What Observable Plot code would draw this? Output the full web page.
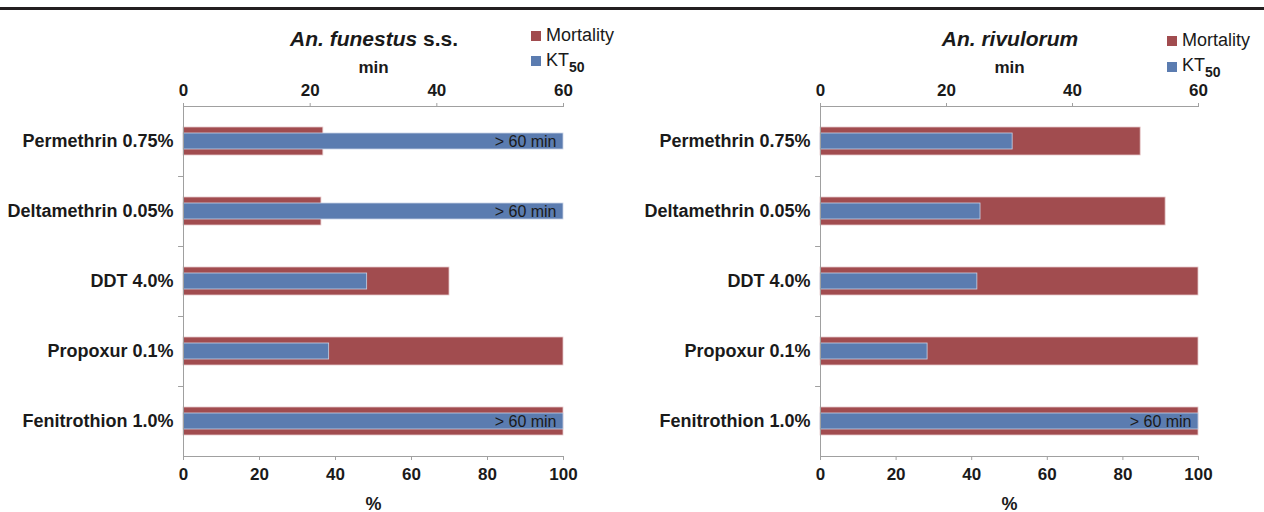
<!DOCTYPE html>
<html>
<head>
<meta charset="utf-8">
<script src="https://cdn.jsdelivr.net/npm/d3@7"></script>
<script src="https://cdn.jsdelivr.net/npm/@observablehq/plot@0.6"></script>
<style>
  html, body { margin: 0; padding: 0; background: #fff; }
  #wrap { position: relative; width: 1264px; height: 512px; overflow: hidden;
    font-family: "Liberation Sans", Arial, Helvetica, sans-serif; color: #1a1a1a; }
  .topline { position: absolute; left: 0; top: 7px; width: 1264px; height: 3px; background: #231f20; }
  .panel { position: absolute; top: 0; }
  .title { position: absolute; font-size: 21px; line-height: 21px; font-weight: bold;
    white-space: nowrap; transform: translateX(-50%); }
  .title i { font-style: italic; }
  .leg { position: absolute; font-size: 18px; line-height: 18px; white-space: nowrap; }
  .leg sub { font-size: 14px; font-weight: bold; vertical-align: -6px; line-height: 0; }
  .sw { position: absolute; width: 10px; height: 10px; }
</style>
</head>
<body>
<div id="wrap">
  <div class="topline"></div>
  <div id="left" class="panel" style="left:0"></div>
  <div id="right" class="panel" style="left:632px"></div>
</div>
<script>
// ---- data ----
const insecticides = ["Permethrin 0.75%", "Deltamethrin 0.05%", "DDT 4.0%", "Propoxur 0.1%", "Fenitrothion 1.0%"];
const funestusMortality = [36.8, 36.3, 70, 100, 100];      // %
const funestusKT50 = [60, 60, 29, 23, 60];                 // min
const funestusOver60 = [true, true, false, false, true];
const rivulorumMortality = [84.7, 91.3, 100, 100, 100];    // %
const rivulorumKT50 = [30.5, 25.4, 24.9, 17, 60];          // min
const rivulorumOver60 = [false, false, false, false, true];
const pctTicks = [0, 20, 40, 60, 80, 100];
const minTicks = [0, 20, 40, 60];
const minMax = 60;
const titles = [["An. funestus", " s.s."], ["An. rivulorum", ""]];
const seriesNames = ["Mortality", "KT"];

const RED = "#a14c4f";
const BLUE = "#5b7cb0";
const AXIS = "#a0a0a0";
const INK = "#1a1a1a";

function panel(mort, kt, over, {marginLeft, marginRight}) {
  const rows = insecticides.map((cat, i) => ({
    cat, mort: mort[i], kt: kt[i], ktPct: kt[i] / minMax * 100, over: over[i]
  }));
  return Plot.plot({
    width: 632, height: 512,
    marginTop: 106, marginBottom: 56, marginLeft, marginRight,
    style: { fontFamily: "Liberation Sans, Arial, sans-serif", color: INK, background: "transparent", overflow: "visible" },
    x: { domain: [0, 100], axis: null },
    y: { domain: insecticides, paddingInner: 0.6, paddingOuter: 0.3, axis: null },
    marks: [
      Plot.barX(rows, { x: "mort", y: "cat", fill: RED, stroke: "#e6c9ca", strokeWidth: 0.8 }),
      Plot.barX(rows, { x: "ktPct", y: "cat", fill: BLUE, stroke: "#c9d3e6", strokeWidth: 0.8, insetTop: 6, insetBottom: 6 }),
      Plot.text(rows.filter(d => d.over), { x: "ktPct", y: "cat", text: () => "> 60 min",
        textAnchor: "end", dx: -7, fontSize: 16, fill: INK }),
      // axis lines
      Plot.ruleX([0], { stroke: AXIS }),
      Plot.ruleY([insecticides[0]], { dy: -35, stroke: AXIS }),
      Plot.ruleY([insecticides[insecticides.length - 1]], { dy: 35, stroke: AXIS }),
      // category boundary ticks on the left axis
      Plot.ruleY(insecticides.slice(0, -1), { x1: -1.3, x2: 0, dy: 35, stroke: AXIS }),
      // bottom % axis
      Plot.axisX({ anchor: "bottom", ticks: pctTicks, tickSize: 4, tickPadding: 7, stroke: AXIS, fill: INK,
        fontSize: 17, fontWeight: "bold", label: null }),
      // top min axis
      Plot.axisX({ anchor: "top", ticks: minTicks.map(m => m / minMax * 100),
        tickFormat: d => Math.round(d * minMax / 100), tickSize: 4, tickPadding: 7, stroke: AXIS, fill: INK,
        fontSize: 17, fontWeight: "bold", label: null }),
      // category labels
      Plot.axisY({ tickSize: 0, tickPadding: 10, fontSize: 18, fontWeight: "bold", fill: INK, label: null }),
      Plot.text(["min"], { frameAnchor: "top", dy: -46, fontSize: 17, fontWeight: "bold", fill: INK }),
      Plot.text(["%"], { frameAnchor: "bottom", dy: 53, fontSize: 18, fontWeight: "bold", fill: INK })
    ]
  });
}

document.getElementById("left").appendChild(
  panel(funestusMortality, funestusKT50, funestusOver60, { marginLeft: 183, marginRight: 69 }));
document.getElementById("right").appendChild(
  panel(rivulorumMortality, rivulorumKT50, rivulorumOver60, { marginLeft: 188, marginRight: 66 }));

// titles and legends (HTML)
const wrap = document.getElementById("wrap");
function addTitle(t, cx) {
  const d = document.createElement("div");
  d.className = "title";
  d.style.left = cx + "px"; d.style.top = (46 - 0.85 * 21) + "px";
  d.innerHTML = `<i>${t[0]}</i>${t[1]}`;
  wrap.appendChild(d);
}
addTitle(titles[0], 374);
addTitle(titles[1], 1010);

function addLegend(x, y1, y2) {
  const s1 = document.createElement("div"); s1.className = "sw";
  s1.style.left = x + "px"; s1.style.top = (y1 - 10) + "px"; s1.style.background = RED; wrap.appendChild(s1);
  const s2 = document.createElement("div"); s2.className = "sw";
  s2.style.left = x + "px"; s2.style.top = (y2 - 10) + "px"; s2.style.background = BLUE; wrap.appendChild(s2);
  const t1 = document.createElement("div"); t1.className = "leg";
  t1.style.left = (x + 15) + "px"; t1.style.top = (y1 - 0.85 * 18) + "px"; t1.textContent = seriesNames[0];
  wrap.appendChild(t1);
  const t2 = document.createElement("div"); t2.className = "leg";
  t2.style.left = (x + 15) + "px"; t2.style.top = (y2 - 0.85 * 18) + "px";
  t2.innerHTML = `${seriesNames[1]}<sub>50</sub>`;
  wrap.appendChild(t2);
}
addLegend(531, 41, 66);
addLegend(1167, 46, 71.5);
</script>
</body>
</html>
